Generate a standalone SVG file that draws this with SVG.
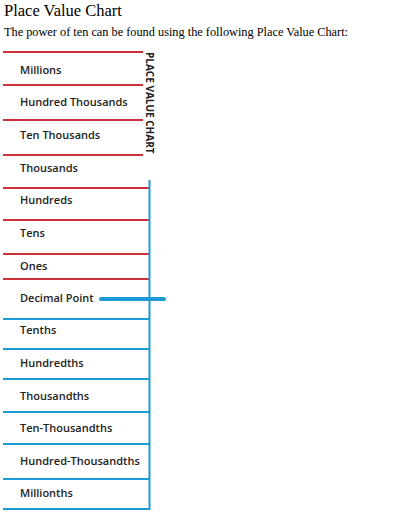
<svg xmlns="http://www.w3.org/2000/svg" width="400" height="515" viewBox="0 0 400 515">
<style>
.h{font-family:"Liberation Serif",serif;fill:#000}
.lbl{font-family:"Open Sans","Liberation Sans",sans-serif;font-size:11px;font-weight:600;fill:#222}
.red{stroke:#cc3038;stroke-width:2}
.blue{stroke:#1c9ad6;stroke-width:2}
</style>
<rect width="400" height="515" fill="#fff"/>
<text class="h" x="4" y="16" font-size="16.5">Place Value Chart</text>
<text class="h" x="4" y="36" font-size="12.3">The power of ten can be found using the following Place Value Chart:</text>
<g id="connectors">
<line class="red" x1="3" y1="52" x2="143" y2="52"/>
<line class="red" x1="3" y1="85" x2="143" y2="85"/>
<line class="red" x1="3" y1="120" x2="143" y2="120"/>
<line class="red" x1="3" y1="155" x2="143" y2="155"/>
<line class="red" x1="3" y1="188" x2="149" y2="188"/>
<line class="red" x1="3" y1="220" x2="149" y2="220"/>
<line class="red" x1="3" y1="254" x2="149" y2="254"/>
<line class="red" x1="3" y1="279" x2="149" y2="279"/>
<line class="blue" x1="3" y1="319" x2="149" y2="319"/>
<line class="blue" x1="3" y1="349" x2="149" y2="349"/>
<line class="blue" x1="3" y1="379" x2="149" y2="379"/>
<line class="blue" x1="3" y1="412" x2="149" y2="412"/>
<line class="blue" x1="3" y1="444" x2="149" y2="444"/>
<line class="blue" x1="3" y1="479" x2="149" y2="479"/>
<line class="blue" x1="3" y1="509" x2="150" y2="509"/>
<line class="blue" x1="149.5" y1="180" x2="149.5" y2="510"/>
<line stroke="#1c9ad6" stroke-width="4" stroke-linecap="round" x1="101" y1="299" x2="164" y2="299"/>
</g>
<g id="title-vertical"><text transform="translate(146,52) rotate(90)" font-family="'Open Sans','Liberation Sans',sans-serif" font-size="10" font-weight="700" fill="#222">PLACE VALUE CHART</text></g>
<g id="millions"><text class="lbl" x="20" y="74">Millions</text></g>
<g id="hundred-thousands"><text class="lbl" x="20" y="106">Hundred Thousands</text></g>
<g id="ten-thousands"><text class="lbl" x="20" y="139">Ten Thousands</text></g>
<g id="thousands"><text class="lbl" x="20" y="172">Thousands</text></g>
<g id="hundreds"><text class="lbl" x="20" y="204">Hundreds</text></g>
<g id="tens"><text class="lbl" x="20" y="237">Tens</text></g>
<g id="ones"><text class="lbl" x="20" y="270">Ones</text></g>
<g id="decimal-point"><text class="lbl" x="20" y="302">Decimal Point</text></g>
<g id="tenths"><text class="lbl" x="20" y="334">Tenths</text></g>
<g id="hundredths"><text class="lbl" x="20" y="367">Hundredths</text></g>
<g id="thousandths"><text class="lbl" x="20" y="400">Thousandths</text></g>
<g id="ten-thousandths"><text class="lbl" x="20" y="432">Ten-Thousandths</text></g>
<g id="hundred-thousandths"><text class="lbl" x="20" y="465">Hundred-Thousandths</text></g>
<g id="millionths"><text class="lbl" x="20" y="497">Millionths</text></g>
</svg>
